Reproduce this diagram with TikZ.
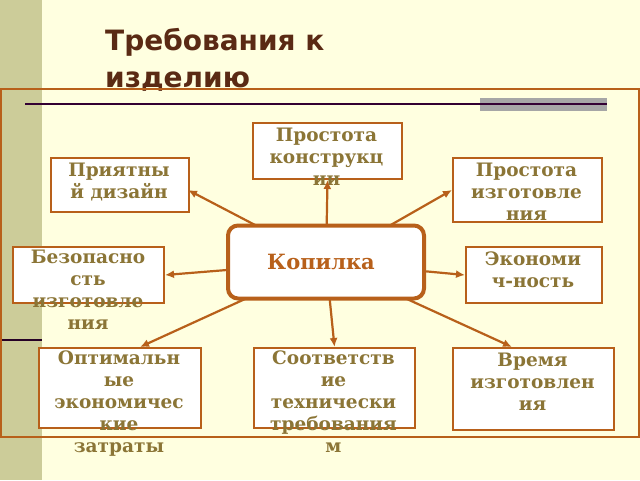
\documentclass[tikz,border=0pt]{standalone}
\usepackage{fontspec}
\setmainfont{DejaVu Serif}
\setsansfont{DejaVu Sans}
\usetikzlibrary{arrows.meta}
\begin{document}
\begin{tikzpicture}[x=1pt,y=-1pt,
 box/.style={draw=bord,line width=2pt,fill=white,inner sep=0pt},
 lbl/.style={text=txt,font=\bfseries\fontsize{18.5}{22}\selectfont,align=center,anchor=north,inner sep=0pt},
 arr/.style={draw=bord,line width=2.2pt,-{Latex[length=9pt,width=8pt]}}]
\definecolor{bg}{HTML}{FFFFE0}
\definecolor{bord}{HTML}{B8601A}
\definecolor{txt}{HTML}{8B7536}
\definecolor{stripe}{HTML}{CCCC99}
\definecolor{ttl}{HTML}{5A2A14}
\fill[bg] (0,0) rectangle (640,480);
\useasboundingbox (0,0) rectangle (640,480);
\fill[stripe] (0,0) rectangle (42,480);
\node[anchor=north west,align=left,text=ttl,font=\sffamily\bfseries\fontsize{28}{37}\selectfont,inner sep=0pt] (title) at (105,28) {Требования к\\изделию};
\fill[gray!70] (480,98) rectangle (607,111);
\draw[violet!40!black,line width=1.2pt] (25,104) -- (607,104);
\draw[black!70!violet,line width=2pt] (0,340) -- (42,340);
\draw[bord,line width=2pt] (1,89) rectangle (639,437);
% nodes
\node[box,minimum width=149,minimum height=56,anchor=north west] (b1) at (252,122) {};
\node[lbl] at (326.5,128) {Простота\\конструкц\\ии};
\node[box,minimum width=138,minimum height=54,anchor=north west] (b2) at (50,157) {};
\node[lbl] at (119,163) {Приятны\\й дизайн};
\node[box,minimum width=149,minimum height=64,anchor=north west] (b3) at (452,157) {};
\node[lbl] at (526.5,163) {Простота\\изготовле\\ния};
\node[box,minimum width=151,minimum height=56,anchor=north west] (b4) at (12,246) {};
\node[lbl] at (88,250) {Безопасно\\сть\\изготовле\\ния};
\node[box,minimum width=136,minimum height=56,anchor=north west] (b5) at (465,246) {};
\node[lbl] at (533,252) {Экономи\\ч-ность};
\node[box,minimum width=162,minimum height=80,anchor=north west] (b6) at (38,347) {};
\node[lbl] at (119,351) {Оптимальн\\ые\\экономичес\\кие\\затраты};
\node[box,minimum width=161,minimum height=80,anchor=north west] (b7) at (253,347) {};
\node[lbl] at (333.5,351) {Соответств\\ие\\технически\\требования\\м};
\node[box,minimum width=161,minimum height=82,anchor=north west] (b8) at (452,347) {};
\node[lbl] at (532.5,353) {Время\\изготовлен\\ия};
\coordinate (c) at (326,262);
\draw[arr] (c) -- (b1.south);
\draw[arr] (c) -- (188,190);
\draw[arr] (c) -- (452,190);
\draw[arr] (c) -- (b4.east);
\draw[arr] (c) -- (b5.west);
\draw[arr] (c) -- (140,347);
\draw[arr] (c) -- (b7.north);
\draw[arr] (c) -- (512,347);
\node[draw=bord,line width=4pt,fill=white,rounded corners=10pt,minimum width=196,minimum height=73,text=bord,font=\bfseries\fontsize{21}{22}\selectfont] (k) at (c) {\hspace*{-10pt}Копилка};
\end{tikzpicture}
\end{document}
